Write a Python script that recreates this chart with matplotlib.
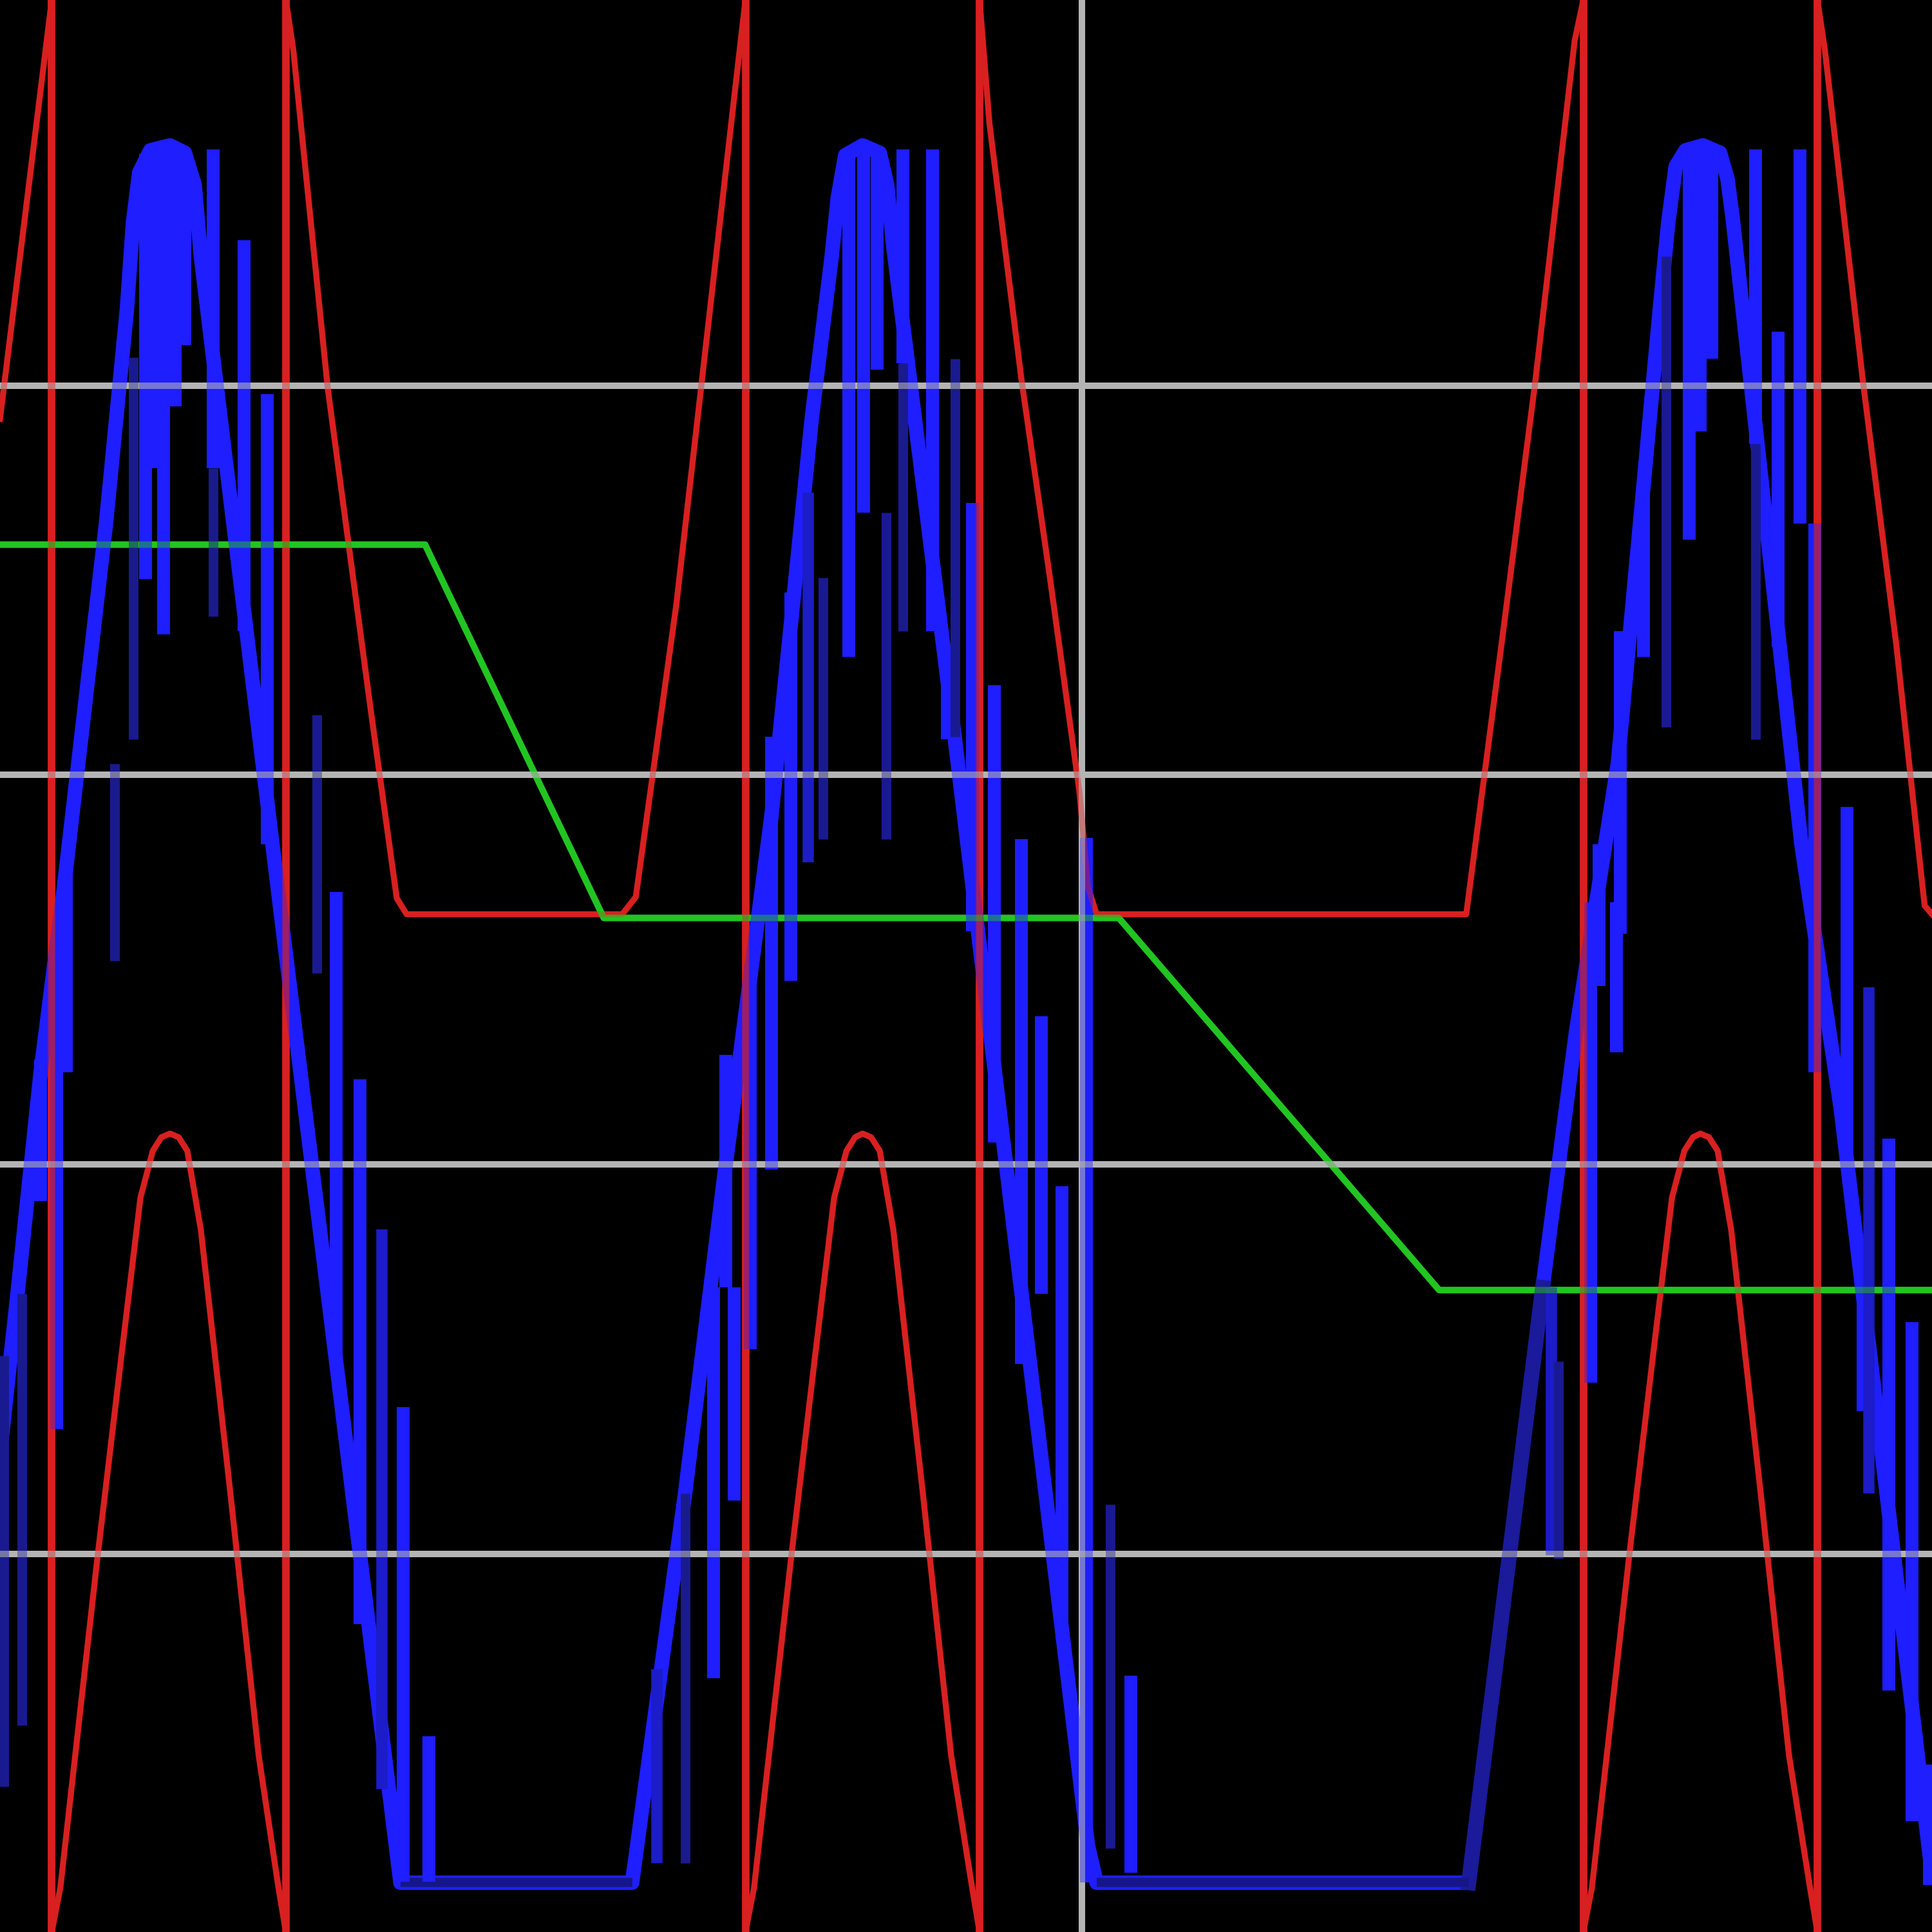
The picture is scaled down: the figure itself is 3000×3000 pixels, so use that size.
import numpy as np
import matplotlib
matplotlib.use("Agg")
import matplotlib.pyplot as plt

# screen coordinates of the scope picture (x to the right, y downwards, 0..1568)
grid_rows = [313, 629, 945, 1261]
grid_cols = [878]

# red channel: triangle wave clipped at the bottom, wrapping round the screen
red_x = [0, 42, 42, 49, 79, 98, 114, 124, 131, 138, 145, 152, 163, 187, 210, 226, 232,
         232, 238, 266, 301, 322, 330, 505, 516, 549, 596, 605,
         605, 612, 642, 661, 677, 687, 694, 700, 707, 714, 725, 749, 772, 789, 795,
         795, 803, 829, 852, 876, 883, 890, 1190, 1219, 1246, 1278, 1285,
         1285, 1292, 1322, 1341, 1357, 1367, 1374, 1380, 1387, 1394, 1405, 1429, 1452, 1469, 1475,
         1475, 1481, 1512, 1539, 1562, 1568]
red_y = [340, 0, 1568, 1532, 1265, 1105, 972, 934, 923, 920, 923, 934, 998, 1212, 1425, 1532, 1568,
         0, 40, 315, 577, 729, 742, 742, 728, 490, 78, 0,
         1568, 1532, 1265, 1105, 972, 934, 923, 920, 923, 934, 998, 1212, 1425, 1532, 1568,
         0, 100, 308, 468, 642, 720, 742, 742, 520, 310, 33, 0,
         1568, 1532, 1265, 1105, 972, 934, 923, 920, 923, 934, 998, 1212, 1425, 1532, 1568,
         0, 40, 310, 523, 735, 742]

# green channel: staircase
green_x = [0, 345, 490, 908, 1168, 1568]
green_y = [442, 442, 745, 745, 1047, 1047]

# blue channel: clipped humps ...
blue_x = [0, 14, 33, 51, 86, 103, 108, 113, 122, 138, 150, 158, 163, 229, 325,
          513, 556, 589, 626, 659, 675, 680, 686, 700, 714, 720, 725, 775, 883, 890,
          1192, 1252, 1279, 1313, 1347, 1354, 1360, 1368, 1382, 1396, 1402, 1406, 1462, 1494, 1566, 1568]
blue_y = [1180, 1052, 870, 728, 425, 251, 180, 140, 122, 118, 124, 150, 208, 750, 1528,
          1528, 1212, 945, 663, 338, 208, 160, 126, 118, 124, 150, 200, 600, 1498, 1528,
          1528, 1045, 838, 620, 252, 180, 135, 122, 118, 124, 145, 175, 685, 900, 1505, 1520]
dim_x = [1192, 1252]
dim_y = [1528, 1045]
flat_x0 = [325, 890]
flat_x1 = [513, 1192]
flat_y = 1528

# ... with sample-and-hold noise spikes: x, top, bottom, brightness (2 bright, 1 mid, 0 dim)
bar_x = [3, 18, 33, 46, 54, 93, 108, 118, 126, 133, 142, 150, 173, 173, 198, 217,
         257, 273, 292, 310, 327, 348,
         533, 556, 579, 589, 596, 609, 626, 642, 656, 668, 689, 701, 712, 719, 733, 733,
         757, 769, 775, 789, 807, 829, 845, 862, 882, 901, 918,
         1259, 1265, 1291, 1298, 1312, 1315, 1334, 1352, 1371, 1380, 1389, 1425, 1425,
         1443, 1461, 1473, 1499, 1512, 1517, 1533, 1552, 1566]
bar_top = [1100, 1050, 860, 780, 700, 620, 290, 125, 121, 121, 121, 125, 121, 380, 195, 320,
           580, 724, 876, 998, 1142, 1409,
           1355, 1212, 1045, 856, 1045, 783, 598, 481, 400, 469, 121, 121, 121, 416, 121, 295,
           121, 523, 291, 408, 556, 681, 825, 963, 680, 1221, 1360,
           1045, 1105, 732, 685, 732, 512, 403, 208, 121, 121, 121, 121, 360,
           269, 121, 425, 655, 1045, 801, 924, 1073, 1432]
bar_bot = [1450, 1400, 975, 1160, 870, 780, 600, 470, 380, 515, 330, 280, 380, 500, 512, 685,
           790, 1105, 1318, 1452, 1527, 1527,
           1512, 1512, 1362, 1045, 1218, 1095, 949, 796, 700, 681, 533, 416, 300, 681, 295, 512,
           512, 600, 598, 756, 927, 1107, 1050, 1330, 1528, 1500, 1520,
           1262, 1265, 1122, 800, 854, 758, 533, 590, 438, 350, 291, 360, 600,
           525, 425, 870, 945, 1145, 1212, 1372, 1478, 1530]
bar_lvl = [0, 0, 2, 2, 2, 0, 0, 2, 2, 2, 2, 2, 2, 0, 2, 2,
           0, 2, 2, 1, 2, 2,
           1, 0, 2, 2, 2, 2, 2, 2, 1, 0, 2, 2, 2, 0, 2, 0,
           2, 2, 0, 2, 2, 2, 2, 2, 2, 0, 2,
           1, 0, 2, 2, 2, 2, 2, 0, 2, 2, 2, 2, 0,
           2, 2, 2, 2, 2, 1, 2, 2, 2]

lvl_color = {0: "#1a1a90", 1: "#1c1cc8", 2: "#1e1eff"}
lvl_width = {0: 3.6, 1: 4.2, 2: 4.8}

RED = "#d82020"
GREEN = "#22c422"
GREY = "#b4b4b4"

# the wrap-round jumps of the red trace are drawn a bit heavier
wrap_x = [red_x[i] for i in range(len(red_x) - 1) if red_x[i] == red_x[i + 1]]

fig = plt.figure(figsize=(10, 10), dpi=300, facecolor="black")
ax = fig.add_axes([0, 0, 1, 1])
ax.set_facecolor("black")
ax.set_xlim(0, 1568)
ax.set_ylim(1568, 0)
ax.axis("off")

# everything is drawn twice: opaque below the blue trace and half transparent
# above it, so crossings mix colours like on the scope screen
for y in grid_rows:
    ax.axhline(y, color=GREY, lw=2.4, zorder=1)
for x in grid_cols:
    ax.axvline(x, color=GREY, lw=2.4, zorder=1)
ax.plot(red_x, red_y, color=RED, lw=2.2, zorder=1.5, solid_joinstyle="round")
ax.vlines(wrap_x, 0, 1568, color=RED, lw=2.8, zorder=1.5)
ax.plot(green_x, green_y, color=GREEN, lw=2.4, zorder=1.6)

# blue trace
ax.plot(blue_x, blue_y, color="#1e1eff", lw=5.4, zorder=2, solid_joinstyle="round")
ax.plot(dim_x, dim_y, color="#1a1a9a", lw=5.6, zorder=2.05)
ax.hlines([flat_y] * len(flat_x0), flat_x0, flat_x1, color="#16168a", lw=3.4, zorder=2.1)
ax.vlines(bar_x, bar_top, bar_bot,
          colors=[lvl_color[l] for l in bar_lvl],
          linewidths=[lvl_width[l] for l in bar_lvl], zorder=2.2)

ax.plot(red_x, red_y, color=RED, lw=2.2, alpha=0.45, zorder=3, solid_joinstyle="round")
ax.vlines(wrap_x, 0, 1568, color=RED, lw=2.8, alpha=0.45, zorder=3)
ax.plot(green_x, green_y, color=GREEN, lw=2.4, alpha=0.5, zorder=3.1)
for y in grid_rows:
    ax.axhline(y, color=GREY, lw=2.4, alpha=0.6, zorder=4)
for x in grid_cols:
    ax.axvline(x, color=GREY, lw=2.4, alpha=0.6, zorder=4)

fig.savefig("out.png", dpi=300, facecolor="black")
